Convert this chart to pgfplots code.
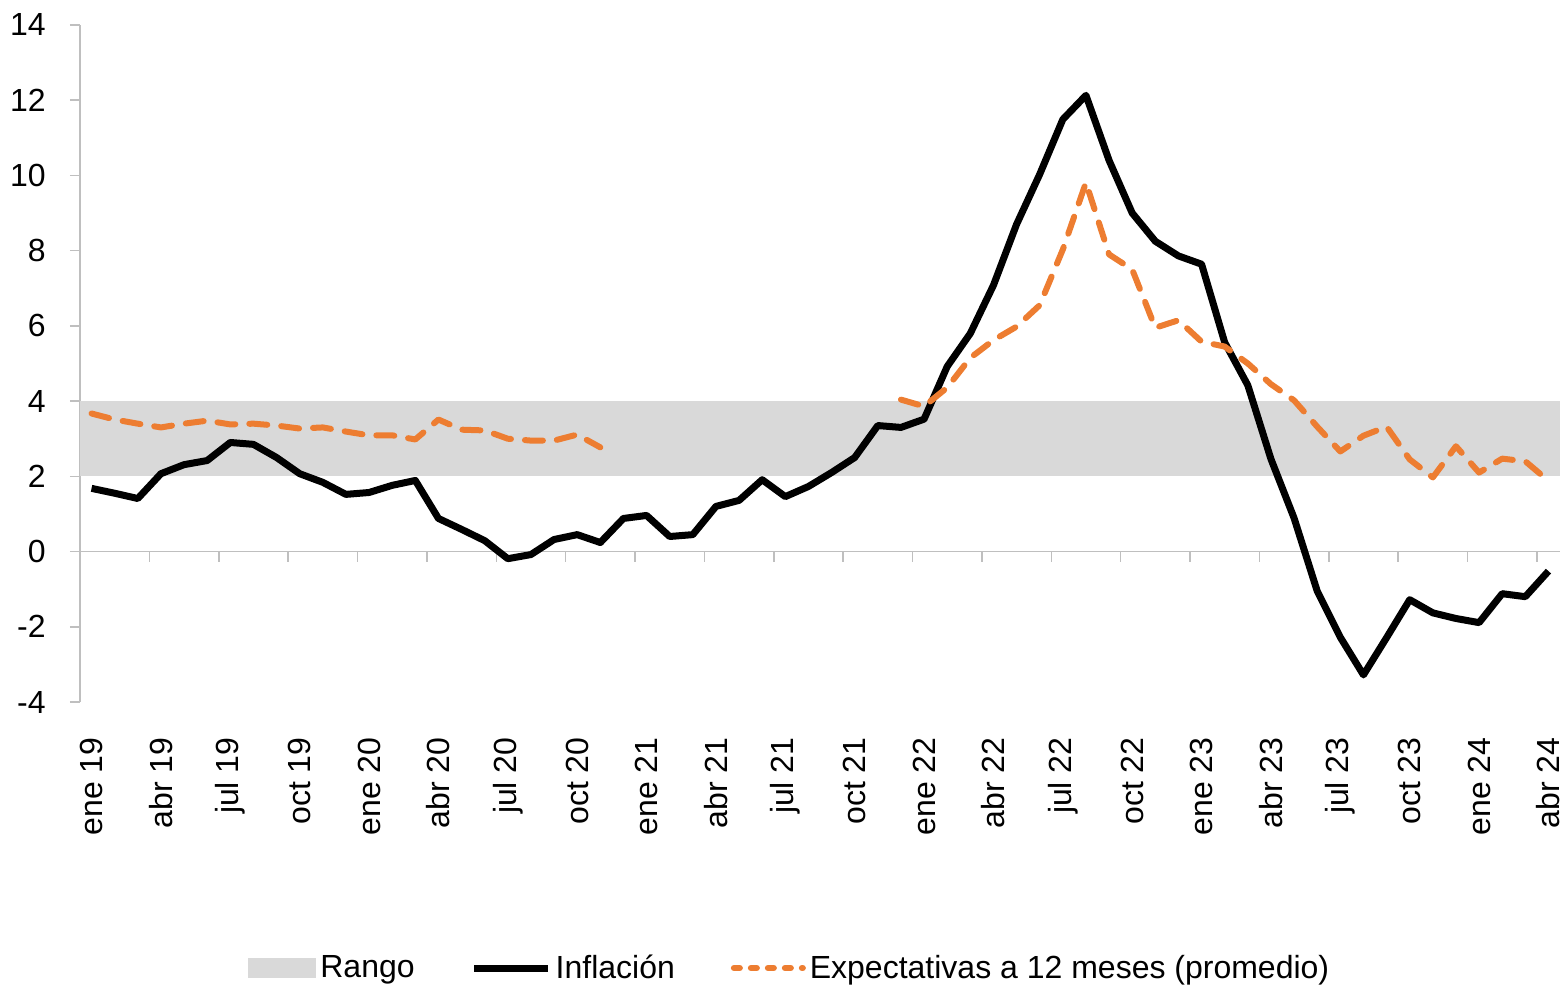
\documentclass[border=0pt]{standalone}
\usepackage{fontspec}
\setmainfont{Liberation Sans}
\usepackage{pgfplots}
\pgfplotsset{compat=1.18}
\definecolor{bandgray}{HTML}{D9D9D9}
\definecolor{axgray}{HTML}{BFBFBF}
\definecolor{orange1}{HTML}{ED7D31}
\begin{document}
\begin{tikzpicture}
\useasboundingbox (-40pt,-143pt) rectangle (743.5pt,351pt);
\begin{axis}[
 scale only axis, width=740pt, height=338.5pt,
 xmin=-0.5, xmax=63.5, ymin=-4, ymax=14,
 axis x line*=bottom, axis y line*=left,
 x axis line style={draw=none},
 y axis line style={axgray, line width=0.75pt},
 xtick={0,3,...,63},
 xticklabels={ene 19, abr 19, jul 19, oct 19, ene 20, abr 20, jul 20, oct 20, ene 21, abr 21, jul 21, oct 21, ene 22, abr 22, jul 22, oct 22, ene 23, abr 23, jul 23, oct 23, ene 24, abr 24},
 x tick style={draw=none},
 xticklabel style={rotate=90, anchor=east, inner sep=0pt, font=\fontsize{16}{19}\selectfont},
 xticklabel shift=12.5pt,
 ytick={-4,-2,...,14},
 yticklabels={-4,-2,0,2,4,6,8,10,12,14},
 y tick style={axgray, line width=0.75pt},
 tick align=outside, major tick length=5pt,
 yticklabel style={inner sep=0pt, anchor=east, font=\fontsize{16}{19}\selectfont},
 yticklabel shift=12pt,
 unbounded coords=jump,
 legend columns=3,
 legend cell align=left,
 legend style={draw=none, fill=none, at={(0.1135,-0.393)}, anchor=west, inner sep=0pt,
   font=\fontsize{16}{19}\selectfont,
   /tikz/every even column/.append style={column sep=26pt},
   nodes={inner sep=2pt}},
]
\addplot[draw=none, fill=bandgray,
  legend image code/.code={\fill[bandgray] (0pt,-5pt) rectangle (34pt,5pt);}]
  coordinates {(-0.5,2) (63.5,2) (63.5,4) (-0.5,4)} -- cycle;
\addlegendentry{Rango}

\draw[axgray, line width=0.75pt] (axis cs:-0.5,0) -- (axis cs:63.5,0);
\pgfplotsinvokeforeach{2.5,5.5,8.5,11.5,14.5,17.5,20.5,23.5,26.5,29.5,32.5,35.5,38.5,41.5,44.5,47.5,50.5,53.5,56.5,59.5,62.5}{
  \draw[axgray, line width=0.75pt] (axis cs:#1,0) -- ++(0pt,-5pt);
}

\addplot[black, line width=3.5pt, line join=round,
  legend image code/.code={\draw[black, line width=3.5pt] (0pt,0pt) -- (37pt,0pt);}]
  coordinates {
(0,1.68) (1,1.55) (2,1.41) (3,2.07) (4,2.31) (5,2.42) (6,2.90) (7,2.85)
(8,2.50) (9,2.07) (10,1.84) (11,1.52) (12,1.57) (13,1.76) (14,1.89) (15,0.88)
(16,0.59) (17,0.29) (18,-0.19) (19,-0.08) (20,0.32) (21,0.45) (22,0.24) (23,0.88)
(24,0.96) (25,0.40) (26,0.45) (27,1.20) (28,1.36) (29,1.91) (30,1.46) (31,1.73)
(32,2.10) (33,2.50) (34,3.35) (35,3.30) (36,3.52) (37,4.92) (38,5.80) (39,7.08)
(40,8.70) (41,10.03) (42,11.49) (43,12.13) (44,10.40) (45,9.00) (46,8.25) (47,7.86)
(48,7.64) (49,5.56) (50,4.42) (51,2.46) (52,0.89) (53,-1.05) (54,-2.28) (55,-3.28)
(56,-2.29) (57,-1.28) (58,-1.63) (59,-1.78) (60,-1.89) (61,-1.12) (62,-1.20) (63,-0.52)
};
\addlegendentry{Inflación}

\addplot[orange1, line width=3pt, line cap=round, line join=round, dash pattern=on 9pt off 7pt,
  legend image code/.code={\draw[orange1, line width=3pt, line cap=round, dash pattern=on 3pt off 5.5pt] (1.5pt,0pt) -- (36pt,0pt);}]
  coordinates {
(0,3.67) (1,3.51) (2,3.40) (3,3.30) (4,3.40) (5,3.48) (6,3.38) (7,3.40)
(8,3.35) (9,3.27) (10,3.30) (11,3.19) (12,3.09) (13,3.09) (14,2.98) (15,3.51)
(16,3.24) (17,3.22) (18,3.00) (19,2.95) (20,2.95) (21,3.11) (22,2.77)
(23,nan)
(35,4.04) (36,3.86) (37,4.36) (38,5.15) (39,5.62) (40,5.98) (41,6.55) (42,8.03)
(43,9.81) (44,7.90) (45,7.50) (46,5.95) (47,6.15) (48,5.58) (49,5.45) (50,5.00)
(51,4.45) (52,4.02) (53,3.32) (54,2.66) (55,3.08) (56,3.32) (57,2.45) (58,1.97)
(59,2.80) (60,2.10) (61,2.47) (62,2.40) (63,1.88)
};
\addlegendentry{Expectativas a 12 meses (promedio)}
\end{axis}
\end{tikzpicture}
\end{document}
